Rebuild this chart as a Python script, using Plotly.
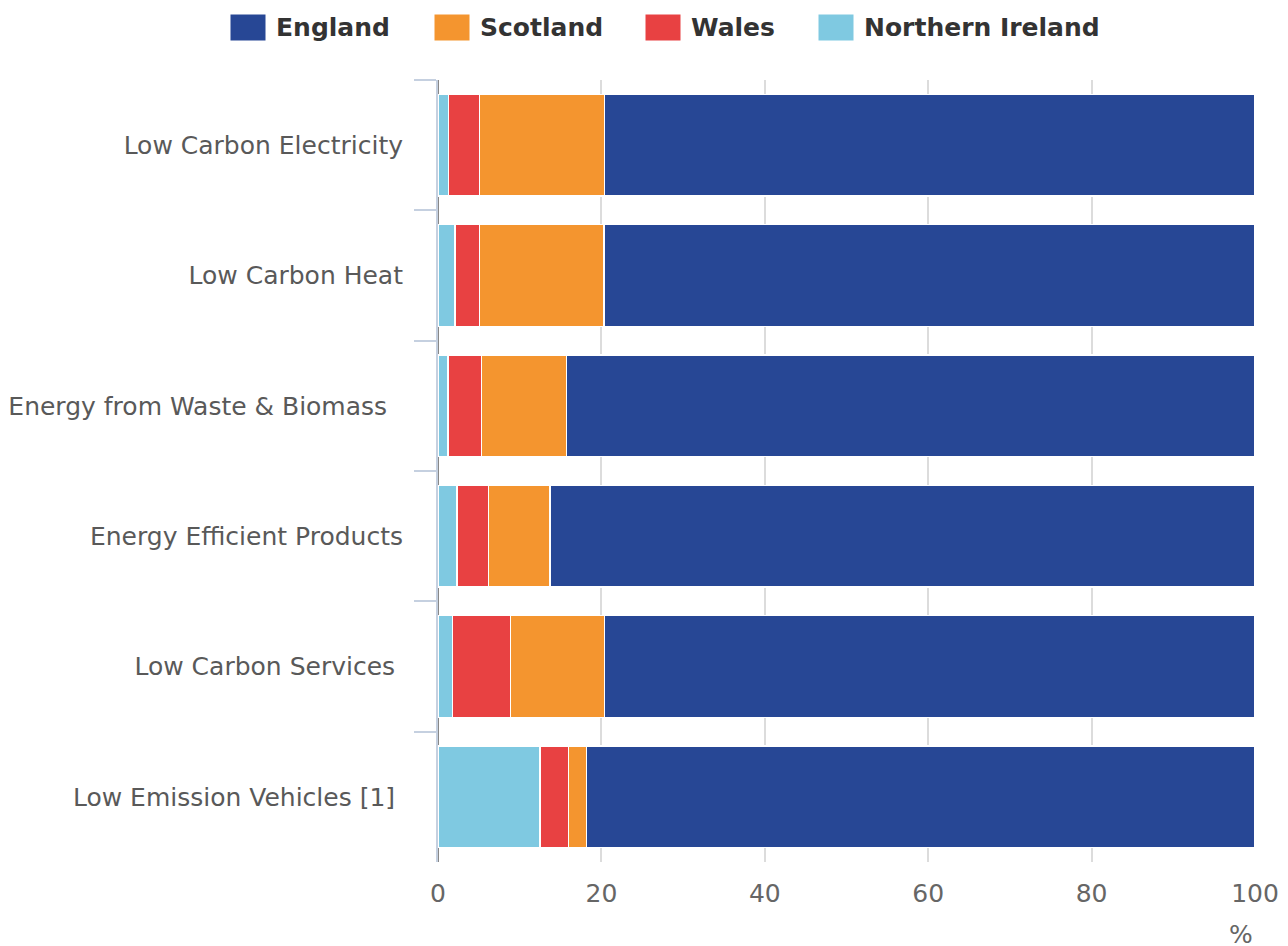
import plotly.graph_objects as go

categories = [
    "Low Carbon Electricity",
    "Low Carbon Heat",
    "Energy from Waste & Biomass  ",
    "Energy Efficient Products",
    "Low Carbon Services ",
    "Low Emission Vehicles [1] ",
]
northern_ireland = [1.3, 2.1, 1.2, 2.3, 1.8, 12.5]
wales = [3.8, 3.0, 4.1, 3.9, 7.1, 3.5]
scotland = [15.3, 15.2, 10.4, 7.5, 11.5, 2.2]
england = [79.6, 79.7, 84.3, 86.3, 79.6, 81.8]

x_ticks = [0, 20, 40, 60, 80, 100]

colors = {
    "England": "#274795",
    "Scotland": "#f4952f",
    "Wales": "#e84142",
    "Northern Ireland": "#7fc9e1",
}

FONT = "DejaVu Sans"
OFF = 8  # default page body margin
W, H = 1288 - OFF, 946 - OFF
# plot area in page pixels
PX0, PX1, PY0, PY1 = 438, 1255, 80, 862
L = PX0 - OFF
T = PY0 - OFF
R = W - (PX1 - OFF)
B = H - (PY1 - OFF)
PW = PX1 - PX0
PH = PY1 - PY0

fig = go.Figure()
for name, vals in [("Northern Ireland", northern_ireland), ("Wales", wales),
                   ("Scotland", scotland), ("England", england)]:
    fig.add_trace(go.Bar(
        y=categories, x=vals, name=name, orientation="h",
        marker=dict(color=colors[name], line=dict(color="white", width=1.5)),
        showlegend=False,
    ))


def px_x(p):
    return (p - PX0) / PW


def px_y(p):
    return (PY1 - p) / PH


# manual legend (large swatches like the reference)
legend_names = ["England", "Scotland", "Wales", "Northern Ireland"]
legend_left_px = [230, 434, 645, 818]
sw_w, sw_h, legend_cy = 36, 27, 27.5

shapes = []
annotations = []
for name, lx in zip(legend_names, legend_left_px):
    shapes.append(dict(
        type="rect", xref="paper", yref="paper",
        x0=px_x(lx), x1=px_x(lx + sw_w),
        y0=px_y(legend_cy + sw_h / 2), y1=px_y(legend_cy - sw_h / 2),
        fillcolor=colors[name], line=dict(color="white", width=1), layer="above",
    ))
    annotations.append(dict(
        text=f"<b>{name}</b>", xref="paper", yref="paper",
        x=px_x(lx + sw_w + 8), y=px_y(legend_cy), xanchor="left", yanchor="middle",
        showarrow=False, font=dict(family=FONT, size=25, color="#333333"),
    ))

annotations.append(dict(
    text="%", xref="paper", yref="paper", x=1.0, y=px_y(934),
    xanchor="right", yanchor="middle", showarrow=False,
    font=dict(family=FONT, size=25, color="#666666"),
))

fig.update_layout(
    barmode="stack",
    bargap=0.22,
    width=W, height=H,
    margin=dict(l=L, r=R, t=T, b=B, pad=0, autoexpand=False),
    paper_bgcolor="white", plot_bgcolor="white",
    font=dict(family=FONT, size=25, color="#595959"),
    shapes=shapes,
    annotations=annotations,
    showlegend=False,
)
fig.update_xaxes(
    range=[0, 100], tickvals=x_ticks, ticks="", automargin=False,
    showgrid=True, gridcolor="#dcdcdc", gridwidth=2,
    zeroline=True, zerolinecolor="#888888", zerolinewidth=2,
    showline=False,
    tickfont=dict(family=FONT, size=25, color="#666666"),
    ticklabelstandoff=14,
)
fig.update_yaxes(
    autorange="reversed", type="category", automargin=False,
    showline=True, linecolor="#c5d0e0", linewidth=2,
    ticks="outside", tickson="boundaries", ticklen=22, tickcolor="#c5d0e0", tickwidth=2,
    showgrid=False,
    tickfont=dict(family=FONT, size=25, color="#595959"),
    ticklabelstandoff=28,
)

fig.write_html("out.html")
